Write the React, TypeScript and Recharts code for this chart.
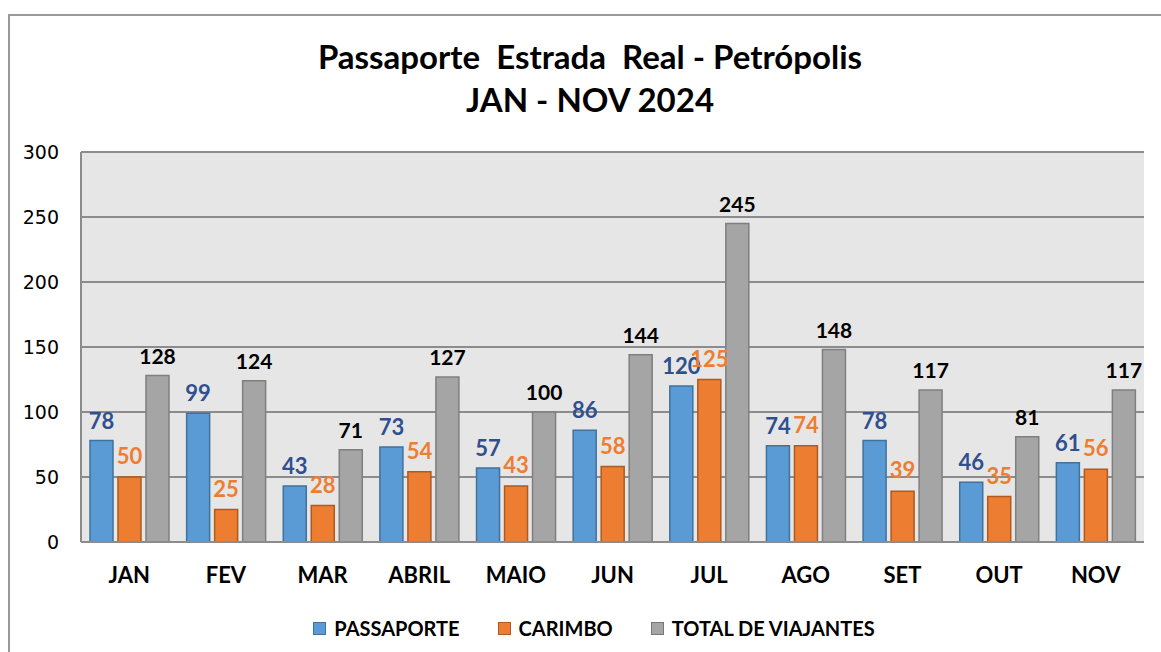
import { BarChart, Bar, XAxis, YAxis, CartesianGrid, Legend, LabelList } from 'recharts';

const months = ['JAN', 'FEV', 'MAR', 'ABRIL', 'MAIO', 'JUN', 'JUL', 'AGO', 'SET', 'OUT', 'NOV'];
const passaporte = [78, 99, 43, 73, 57, 86, 120, 74, 78, 46, 61];
const carimbo = [50, 25, 28, 54, 43, 58, 125, 74, 39, 35, 56];
const totalViajantes = [128, 124, 71, 127, 100, 144, 245, 148, 117, 81, 117];
const yTicks = [0, 50, 100, 150, 200, 250, 300];

const chartData = months.map((m, i) => ({
  month: m,
  passaporte: passaporte[i],
  carimbo: carimbo[i],
  total: totalViajantes[i],
}));

const font = 'Lato, "Open Sans", sans-serif';

const legendItems = [
  { label: 'PASSAPORTE', fill: '#5b9bd5', stroke: '#41719c' },
  { label: 'CARIMBO', fill: '#ed7d31', stroke: '#ae5a21' },
  { label: 'TOTAL DE VIAJANTES', fill: '#a5a5a5', stroke: '#787878' },
];

function LegendContent() {
  return (
    <div style={{ display: 'flex', justifyContent: 'center', gap: 38, paddingLeft: 44, fontFamily: font, fontWeight: 700, fontSize: 20, lineHeight: '24px', color: '#000' }}>
      {legendItems.map((it) => (
        <div key={it.label} style={{ display: 'flex', alignItems: 'center', gap: 8 }}>
          <span style={{ width: 11, height: 11, background: it.fill, border: `1.5px solid ${it.stroke}`, display: 'inline-block' }} />
          <span>{it.label}</span>
        </div>
      ))}
    </div>
  );
}

export default function App() {
  return (
    <div style={{ position: 'absolute', left: 0, top: 0, width: 1161, height: 652, background: '#fff', overflow: 'hidden' }}>
      <div style={{ position: 'absolute', left: 8, top: 14, width: 1200, height: 700, borderLeft: '2px solid #999', borderTop: '2px solid #999' }} />
      <div style={{ position: 'absolute', left: 0, width: 1180, top: 35, textAlign: 'center', fontFamily: font, fontWeight: 700, fontSize: 33, lineHeight: '43px', whiteSpace: 'pre', color: '#000' }}>
        {'Passaporte  Estrada  Real - Petrópolis\nJAN - NOV 2024'}
      </div>
      <div style={{ position: 'absolute', left: 0, top: 0 }}>
        <BarChart
          width={1161}
          height={652}
          data={chartData}
          margin={{ top: 152, right: 17, left: 0, bottom: 56 }}
          barSize={23}
          barGap={5}
        >
          <CartesianGrid vertical={false} fill="#e6e6e6" stroke="#8c8c8c" strokeWidth={2} />
          <XAxis
            dataKey="month"
            tickLine={false}
            tickSize={0}
            tickMargin={25}
            axisLine={{ stroke: '#8c8c8c', strokeWidth: 2 }}
            tick={{ fill: '#000', fontSize: 22, fontWeight: 700, fontFamily: font }}
          />
          <YAxis
            width={81}
            domain={[0, 300]}
            ticks={yTicks}
            tickLine={false}
            tickSize={0}
            tickMargin={22}
            axisLine={{ stroke: '#8c8c8c', strokeWidth: 2 }}
            tick={{ fill: '#000', fontSize: 19, fontFamily: '"DejaVu Sans", sans-serif' }}
          />
          <Legend verticalAlign="bottom" wrapperStyle={{ bottom: 12 }} content={<LegendContent />} />
          <Bar dataKey="passaporte" fill="#5b9bd5" stroke="#41719c" strokeWidth={1.5} isAnimationActive={false}>
            <LabelList dataKey="passaporte" position="top" offset={12} fill="#2f4f8f" fontSize={22} fontWeight={700} fontFamily={font} />
          </Bar>
          <Bar dataKey="carimbo" fill="#ed7d31" stroke="#ae5a21" strokeWidth={1.5} isAnimationActive={false}>
            <LabelList dataKey="carimbo" position="top" offset={13} fill="#ed7d31" fontSize={22} fontWeight={700} fontFamily={font} />
          </Bar>
          <Bar dataKey="total" fill="#a5a5a5" stroke="#7f7f7f" strokeWidth={1.5} isAnimationActive={false}>
            <LabelList dataKey="total" position="top" offset={12} fill="#000" fontSize={21} fontWeight={700} fontFamily={font} />
          </Bar>
        </BarChart>
      </div>
    </div>
  );
}
